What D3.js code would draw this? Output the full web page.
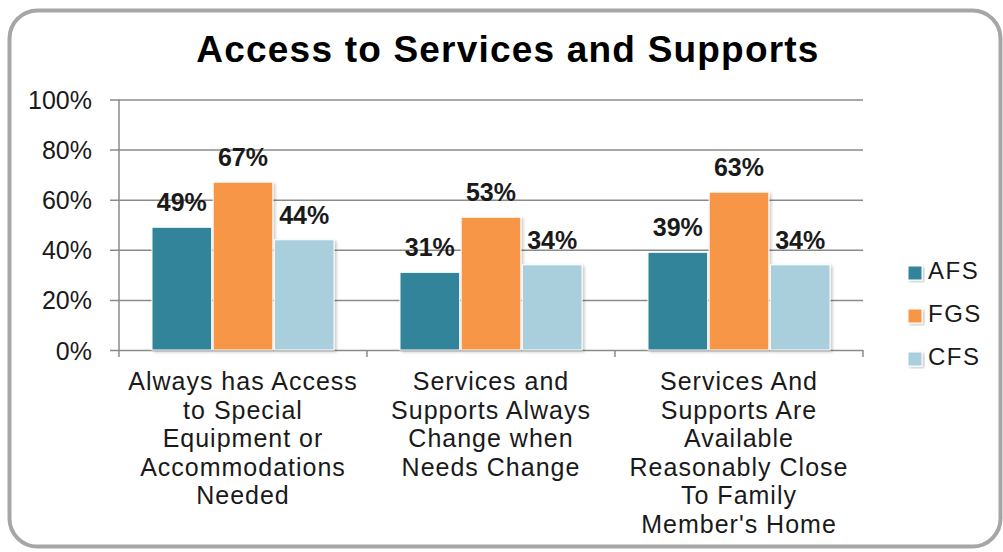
<!DOCTYPE html>
<html>
<head>
<meta charset="utf-8">
<script src="https://cdn.jsdelivr.net/npm/d3@7"></script>
<style>
  html, body { margin: 0; padding: 0; background: #fff; }
  svg { display: block; font-family: "Liberation Sans", Arial, sans-serif; }
</style>
</head>
<body>
<svg id="chart" width="1003" height="552"></svg>
<script>
// Chart data
const title = "Access to Services and Supports";
const categories = [
  "Always has Access to Special Equipment or Accommodations Needed",
  "Services and Supports Always Change when Needs Change",
  "Services And Supports Are Available Reasonably Close To Family Member's Home"
];
const categoryLines = [
  ["Always has Access", "to Special", "Equipment or", "Accommodations", "Needed"],
  ["Services and", "Supports Always", "Change when", "Needs Change"],
  ["Services And", "Supports Are", "Available", "Reasonably Close", "To Family", "Member's Home"]
];
const seriesNames = ["AFS", "FGS", "CFS"];
const AFS = [0.49, 0.31, 0.39];
const FGS = [0.67, 0.53, 0.63];
const CFS = [0.44, 0.34, 0.34];
const yTicks = [0, 0.2, 0.4, 0.6, 0.8, 1.0];
const colors = ["#31849b", "#f79646", "#a9cfdd"];

const seriesValues = { AFS, FGS, CFS };

const svg = d3.select("#chart");

// Drop shadow for bars
const defs = svg.append("defs");
const f = defs.append("filter").attr("id", "shadow")
  .attr("x", "-10%").attr("y", "-10%").attr("width", "130%").attr("height", "130%");
f.append("feDropShadow").attr("dx", 2).attr("dy", 1.5).attr("stdDeviation", 1.4)
  .attr("flood-color", "#000").attr("flood-opacity", 0.22);

// Outer frame
svg.append("rect")
  .attr("x", 9.5).attr("y", 10.5).attr("width", 991).attr("height", 536)
  .attr("rx", 28).attr("ry", 28)
  .attr("fill", "#fff").attr("stroke", "#a6a6a6").attr("stroke-width", 4);

// Title
svg.append("text")
  .attr("x", 508).attr("y", 62)
  .attr("text-anchor", "middle")
  .attr("font-size", 37).attr("font-weight", "bold")
  .attr("letter-spacing", 1.2)
  .attr("fill", "#000")
  .text(title);

// Scales
const plot = { left: 119, right: 863, top: 99.5, bottom: 350 };
const x0 = d3.scaleBand().domain(categories).range([plot.left, plot.right]);
const bw = x0.bandwidth();
const x1 = d3.scaleBand().domain(seriesNames).range([bw * 0.13, bw * 0.87]);
const y = d3.scaleLinear().domain([0, 1]).range([plot.bottom, plot.top]);

const gridColor = "#8a8a8a";

// Horizontal gridlines + left ticks
const yAxis = d3.axisLeft(y).tickValues(yTicks).tickFormat(d3.format(".0%"))
  .tickSize(-(plot.right - plot.left)).tickSizeOuter(0).tickPadding(27);
const gy = svg.append("g").attr("transform", `translate(${plot.left},0)`).call(yAxis);
gy.select(".domain").remove();
gy.selectAll(".tick line").attr("stroke", gridColor).attr("stroke-width", 1.5)
  .attr("x1", -9);
gy.selectAll(".tick text")
  .attr("font-size", 25).attr("fill", "#1a1a1a").attr("dy", "0.36em")
  .attr("font-family", "'Liberation Sans', Arial, sans-serif");

// Vertical axis line
svg.append("line")
  .attr("x1", plot.left).attr("x2", plot.left)
  .attr("y1", plot.top).attr("y2", plot.bottom + 7)
  .attr("stroke", gridColor).attr("stroke-width", 1.5);

// Category boundary ticks
const bounds = categories.map(c => x0(c) + bw);
svg.append("g").selectAll("line").data(bounds).join("line")
  .attr("x1", d => d).attr("x2", d => d)
  .attr("y1", plot.bottom).attr("y2", plot.bottom + 7)
  .attr("stroke", gridColor).attr("stroke-width", 1.5);

// Bars
const groups = svg.append("g").selectAll("g").data(categories).join("g")
  .attr("transform", c => `translate(${x0(c)},0)`);

groups.selectAll("rect")
  .data((c, i) => seriesNames.map((s, j) => ({ s, j, v: seriesValues[s][i] })))
  .join("rect")
  .attr("x", d => x1(d.s) + 0.75)
  .attr("width", x1.bandwidth() - 1.5)
  .attr("y", d => y(d.v))
  .attr("height", d => y(0) - y(d.v))
  .attr("fill", d => colors[d.j])
  .attr("stroke", "#fff").attr("stroke-width", 1)
  .attr("filter", "url(#shadow)");

// Data labels
groups.selectAll("text.val")
  .data((c, i) => seriesNames.map((s, j) => ({ s, j, v: seriesValues[s][i] })))
  .join("text")
  .attr("class", "val")
  .attr("x", d => x1(d.s) + x1.bandwidth() / 2)
  .attr("y", d => y(d.v) - 16)
  .attr("text-anchor", "middle")
  .attr("font-size", 25).attr("font-weight", "bold")
  .attr("fill", "#1a1a1a")
  .text(d => d3.format(".0%")(d.v));

// Category labels
svg.append("g").selectAll("text").data(categories).join("text")
  .attr("x", c => x0(c) + bw / 2)
  .attr("y", 390)
  .attr("text-anchor", "middle")
  .attr("font-size", 25).attr("letter-spacing", 1)
  .attr("fill", "#1a1a1a")
  .each(function (c, i) {
    d3.select(this).selectAll("tspan").data(categoryLines[i]).join("tspan")
      .attr("x", x0(c) + bw / 2)
      .attr("dy", (d, k) => k === 0 ? 0 : 28.5)
      .text(d => d);
  });

// Legend
const legend = svg.append("g").selectAll("g").data(seriesNames).join("g")
  .attr("transform", (d, i) => `translate(908, ${279 + i * 43})`);
legend.append("rect")
  .attr("x", 0).attr("y", -13).attr("width", 14).attr("height", 14)
  .attr("fill", (d, i) => colors[i])
  .attr("stroke", "#fff").attr("stroke-width", 1)
  .attr("filter", "url(#shadow)");
legend.append("text")
  .attr("x", 20).attr("y", 0)
  .attr("font-size", 24).attr("letter-spacing", 1.5)
  .attr("fill", "#1a1a1a")
  .text(d => d);
</script>
</body>
</html>
